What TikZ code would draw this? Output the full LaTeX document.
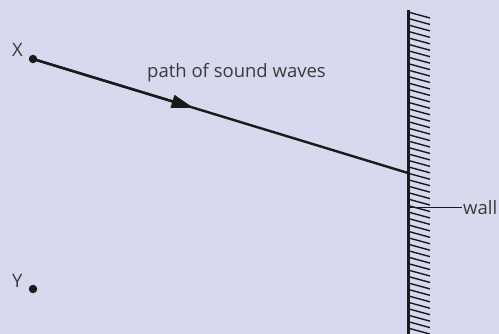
\documentclass[tikz,border=0pt]{standalone}
\usepackage{fontspec}
\setmainfont{Open Sans}
\usepackage{tikz}
\usetikzlibrary{arrows.meta, calc, positioning}
\definecolor{bgpanel}{HTML}{D8D9EE}
\definecolor{inkdk}{HTML}{1A1A1A}
\definecolor{txtgray}{HTML}{3A3A3A}
\tikzset{
  ray/.style    = {draw=inkdk, line width=2.4pt},
  raytip/.style = {-{Triangle[length=22pt, width=13pt]}},
  wallln/.style = {draw=inkdk, line width=3pt},
  hatch/.style  = {draw=inkdk, line width=1.4pt},
  leader/.style = {draw=inkdk, line width=1pt},
  sdot/.style   = {circle, fill=inkdk, minimum size=8.5pt, inner sep=0pt},
  lbl/.style    = {font=\fontsize{18.5}{22}\selectfont, text=txtgray, inner sep=1pt},
}
\begin{document}
\begin{tikzpicture}[x=1pt, y=-1pt]
  \fill[bgpanel] (0,0) rectangle (499,334);
  \useasboundingbox (0,0) rectangle (499,334);
  % points and wall
  \node[sdot] (X) at (33,59) {};
  \node[sdot] (Y) at (33,289) {};
  \coordinate (WT) at (408,10);
  \coordinate (WB) at (408,334);
  \coordinate (R) at (408,173);
  \coordinate (WL) at (408,208);
  \coordinate (M) at ($(X)!0.428!(R)$);
  % hatching of the wall
  \begin{scope}
    \clip (0,0) rectangle (499,334);
    \foreach \k in {0,...,49}
      \draw[hatch] (408,{12+6.45*\k}) -- ++(22,6);
  \end{scope}
  \draw[wallln] (WT) -- (WB);
  % sound path
  \draw[ray] (X.center) -- (R);
  \draw[ray, raytip] (X.center) -- (M);
  % labels
  \node[lbl, anchor=base west] (xl) at (11,57) {X};
  \node[lbl, anchor=base west] (yl) at (11,288) {Y};
  \node[lbl, anchor=base west] (pl) at (146,78) {path of sound waves};
  \node[lbl, anchor=west] (wall) at (462,208) {wall};
  \draw[leader] (WL) -- (wall.west);
\end{tikzpicture}
\end{document}
